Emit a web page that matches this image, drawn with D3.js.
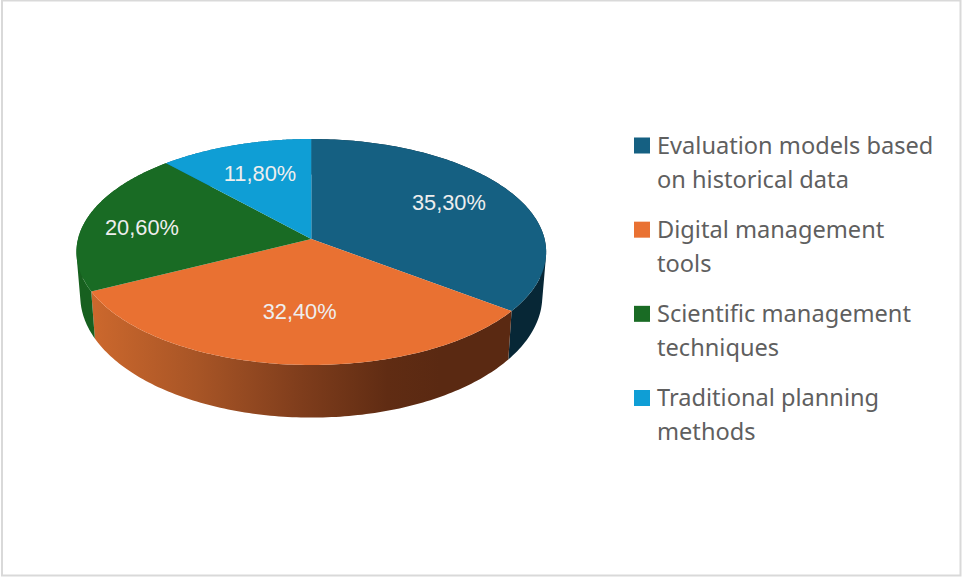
<!DOCTYPE html>
<html>
<head>
<meta charset="utf-8">
<script src="https://cdn.jsdelivr.net/npm/d3@7"></script>
<style>
  html, body { margin: 0; padding: 0; background: #fff; }
  svg { display: block; }
</style>
</head>
<body>
<svg id="chart" width="963" height="577"></svg>
<script>
// Survey shares, in percent
const categories = [
  "Evaluation models based on historical data",
  "Digital management tools",
  "Scientific management techniques",
  "Traditional planning methods"
];
const shares = [35.3, 32.4, 20.6, 11.8];
const legendLines = [
  ["Evaluation models based", "on historical data"],
  ["Digital management", "tools"],
  ["Scientific management", "techniques"],
  ["Traditional planning", "methods"]
];
const topColors = ["#156082", "#E97132", "#196B24", "#0F9ED5"];
const wallColors = ["#072736", null, "#17601F", "#0A6A90"];
// Placement of each percentage label: fraction of the radius, then a small shift
const labelRadii = [0.69, 0.6, 0.75, 0.65];
const labelShifts = [[-1.5, -3], [2, 1], [0, 4], [0, -2]];

const svg = d3.select("#chart");

// Page frame
svg.append("rect")
  .attr("x", 2).attr("y", 0.5).attr("width", 958.5).attr("height", 575)
  .attr("fill", "#fff").attr("stroke", "#d9d9d9").attr("stroke-width", 2);

// Perspective projection of the pie's top and bottom discs.
// Disc coordinates: X to the right, Y away from the viewer, unit radius.
const projector = (cx, cy, a, b, k) => (X, Y) => {
  const w = 1 + k * Y;
  return [cx + a * X / w, cy - b * Y / w];
};
const topDisc = projector(311.3, 239, 233.3, 111.5, 0.115);
const baseDisc = projector(311.3, 282, 229.5, 120, 0.115);

const rimPoint = (disc, angle, r = 1) => disc(r * Math.sin(angle), r * Math.cos(angle));
const angleSamples = (a0, a1) => d3.range(0, 121).map(i => a0 + (a1 - a0) * i / 120);

const pie = d3.pie().sort(null).value(d => d).startAngle(0).endAngle(2 * Math.PI);
const slices = pie(shares);
const line = d3.line();

// Light falling from the left on the front of the orange wall
const defs = svg.append("defs");
const wallGradient = defs.append("linearGradient")
  .attr("id", "orangeWall")
  .attr("gradientUnits", "userSpaceOnUse")
  .attr("x1", 92).attr("x2", 440).attr("y1", 0).attr("y2", 0);
[[0, "#CC682D"], [0.3, "#A85526"], [0.6, "#7F3D1C"], [0.85, "#602C13"], [1, "#5A2912"]]
  .forEach(([o, c]) => wallGradient.append("stop").attr("offset", o).attr("stop-color", c));

// A wall is a run of small quads between the two rims. Taking the hull of each
// one keeps every quad wound the same way, so the fold at the silhouette fills.
const wallPath = d => {
  const angles = angleSamples(d.startAngle, d.endAngle);
  return d3.pairs(angles).map(([a, b]) => {
    const quad = d3.polygonHull([
      rimPoint(topDisc, a), rimPoint(topDisc, b),
      rimPoint(baseDisc, a), rimPoint(baseDisc, b)
    ]);
    return line(quad) + "Z";
  }).join("");
};

// Side walls first, so the top faces cover their hidden back parts
svg.append("g").selectAll("path").data(slices).join("path")
  .attr("d", wallPath)
  .attr("fill", (d, i) => wallColors[i] || "url(#orangeWall)");

// Top faces
svg.append("g").selectAll("path").data(slices).join("path")
  .attr("d", d => {
    const rim = angleSamples(d.startAngle, d.endAngle).map(a => rimPoint(topDisc, a));
    return line([topDisc(0, 0), ...rim]) + "Z";
  })
  .attr("fill", (d, i) => topColors[i]);

// Percentage labels, decimal comma
const labelFormat = v => v.toFixed(2).replace(".", ",") + "%";
svg.append("g").selectAll("text").data(slices).join("text")
  .attr("transform", (d, i) => {
    const [x, y] = rimPoint(topDisc, (d.startAngle + d.endAngle) / 2, labelRadii[i]);
    return `translate(${x + labelShifts[i][0]},${y + labelShifts[i][1]})`;
  })
  .attr("text-anchor", "middle")
  .attr("dominant-baseline", "central")
  .attr("font-family", "'Liberation Sans', Arial, sans-serif")
  .attr("font-size", 21.8)
  .attr("fill", "#eeeeee")
  .text(d => labelFormat(d.data));

// Legend
const legendY = d3.scalePoint().domain(categories).range([145.5, 398]);
const legend = svg.append("g").selectAll("g").data(categories).join("g")
  .attr("transform", d => `translate(634,${legendY(d)})`);
legend.append("rect")
  .attr("x", 0).attr("y", -8).attr("width", 16).attr("height", 16)
  .attr("fill", (d, i) => topColors[i]);
legend.append("text")
  .attr("font-family", "'Noto Sans', sans-serif")
  .attr("font-size", 23.6)
  .attr("fill", "#5f5f5f")
  .selectAll("tspan").data((d, i) => legendLines[i]).join("tspan")
  .attr("x", 23)
  .attr("y", (d, i) => i * 34 - 1)
  .attr("dominant-baseline", "central")
  .text(d => d);
</script>
</body>
</html>
